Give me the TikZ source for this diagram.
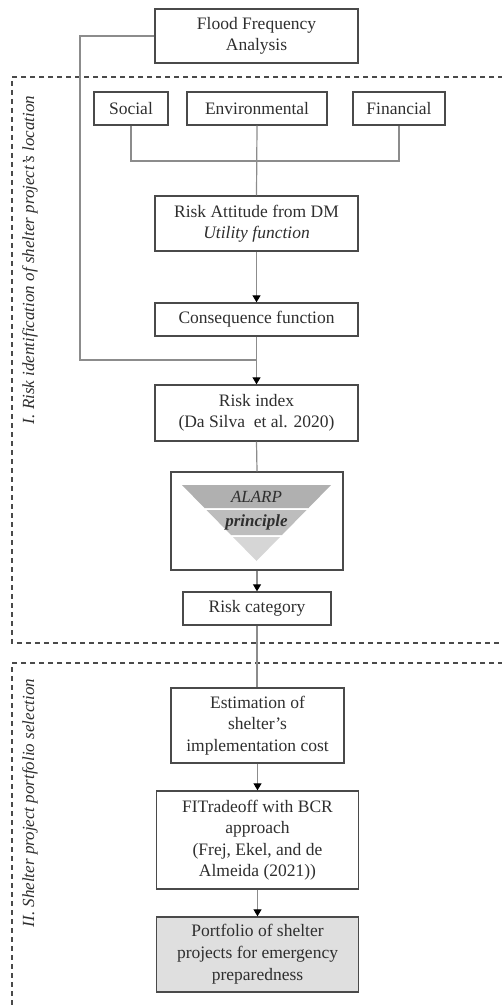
\documentclass[tikz,border=0pt]{standalone}
\usepackage{fontspec}
\setmainfont{Liberation Serif}
\usepackage{tikz}
\usetikzlibrary{arrows.meta}
\definecolor{txt}{HTML}{2E2E2E}
\definecolor{frame}{HTML}{4A4A4A}
\definecolor{wire}{HTML}{8C8C8C}

\begin{document}
\begin{tikzpicture}[x=1pt,y=-1pt,
		box/.style={draw=frame,line width=1.4pt,inner sep=0pt,align=center,text=txt,font=\fontsize{17.5}{21.5}\selectfont},
		wire/.style={draw=wire,line width=1.2pt},
		arr/.style={wire,-{Triangle[length=7pt,width=8pt,fill=black,color=black]}},
		zone/.style={draw=frame,line width=1.5pt,dash pattern=on 5pt off 4pt},
		side/.style={rotate=90,text=txt,font=\fontsize{17}{20}\selectfont\itshape}]
		\useasboundingbox (0,0) rectangle (502,1008);
		% dashed zones
		\draw[zone] (503,77) -- (12,77) -- (12,643) -- (503,643);
		\draw[zone] (503,663) -- (12,663) -- (12,1010);
		\node[side] (lab1) at (30,260) {I. Risk identification of shelter project's location};
		\node[side] (lab2) at (30,803) {II. Shelter project portfolio selection};
		% boxes
		\node[box,minimum width=203pt,minimum height=54pt] (flood) at (256.5,36) {Flood Frequency\\Analysis};
		\node[box,minimum width=74pt,minimum height=33pt] (soc) at (131,108.5) {Social};
		\node[box,minimum width=140pt,minimum height=33pt] (env) at (257,108.5) {Environmental};
		\node[box,minimum width=92pt,minimum height=33pt] (fin) at (399,108.5) {Financial};
		\node[box,minimum width=203pt,minimum height=55pt] (att) at (256.5,223.5) {Risk Attitude from DM\\\textit{Utility function}};
		\node[box,minimum width=203pt,minimum height=33pt] (cons) at (256.5,319.5) {Consequence function};
		\node[box,minimum width=203pt,minimum height=56pt] (risk) at (256.5,413) {Risk index\\(Da Silva~ et al. 2020)};
		\node[box,minimum width=172pt,minimum height=98pt] (alarp) at (257,521) {};
		\node[box,minimum width=148pt,minimum height=33pt] (cat) at (257,608.5) {Risk category};
		\node[box,minimum width=173pt,minimum height=75pt] (est) at (257.5,725.5) {Estimation of\\shelter’s\\implementation cost};
		\node[box,minimum width=202pt,minimum height=98pt] (fit) at (257.5,840) {FITradeoff with BCR\\approach\\(Frej, Ekel, and de\\Almeida (2021))};
		\node[box,minimum width=202pt,minimum height=75pt,fill=gray!25,font=\fontsize{17.5}{22}\selectfont] (port) at (257.5,954.5) {Portfolio of shelter\\projects for emergency\\preparedness};
		% ALARP triangle
		\fill[gray!62] (182,485) -- (331,485) -- (308.5,508) -- (204.5,508) -- cycle;
		\fill[gray!52] (206.5,510) -- (306.5,510) -- (282,535) -- (231,535) -- cycle;
		\fill[gray!32] (233,537) -- (280,537) -- (256.5,561) -- cycle;
		\node[text=txt,font=\fontsize{17}{20}\selectfont\itshape] (al) at (256.5,497) {ALARP};
		\node[text=txt,font=\fontsize{17}{20}\selectfont\bfseries\itshape] (pr) at (256.5,522) {principle};
		% connectors
		\coordinate (bend) at (80,360);
		\coordinate (merge) at (257,360);
		\coordinate (join) at (257,161);
		\draw[wire] (flood.west) -| (bend) -- (merge);
		\draw[wire] (soc.south) |- (join) -| (fin.south);
		\draw[wire] (env.south) -- (att.north);
		\draw[arr] (att.south) -- (cons.north);
		\draw[arr] (cons.south) -- (risk.north);
		\draw[wire] (risk.south) -- (alarp.north);
		\draw[arr] (alarp.south) -- (cat.north);
		\draw[wire] (cat.south) -- (est.north -| cat.south);
		\draw[arr] (est.south) -- (fit.north);
		\draw[arr] (fit.south) -- (port.north);
\end{tikzpicture}
\end{document}
